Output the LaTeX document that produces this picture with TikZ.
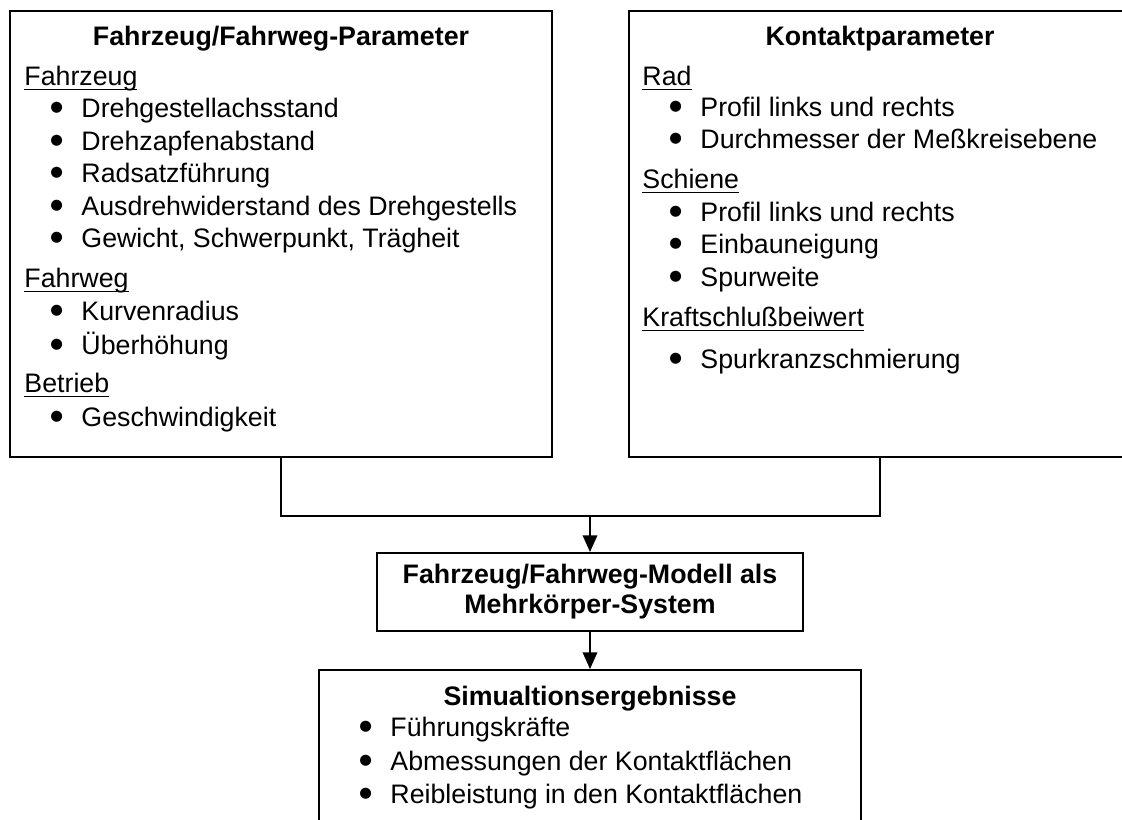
\documentclass[tikz,border=0pt]{standalone}
\usepackage{fontspec}
\setmainfont{Liberation Sans}
\newfontfamily\symfont{DejaVu Sans}
\usetikzlibrary{arrows.meta}

\newlength{\px}
\setlength{\px}{0.4486pt}
\newcommand{\sz}{\fontsize{12pt}{13.5pt}\selectfont}
\newcommand{\bdot}{\raisebox{2.9pt}{\symfont\fontsize{6.5pt}{6.5pt}\selectfont ●}}
\newcommand{\itm}[1]{\makebox[12.56pt][l]{\hspace{1.5pt}\makebox[0pt][c]{\bdot}}#1}
\newcommand{\hd}[1]{\underline{\smash{#1}}}

\tikzset{
	box/.style={draw, line width=0.9pt, inner sep=0pt},
	title/.style={font=\sz\bfseries, inner sep=0pt, text height=0.9em, text depth=0.1em},
	head/.style={font=\sz, anchor=west, inner sep=0pt, text height=0.9em, text depth=0.1em},
	item/.style={head},
	flow/.style={line width=0.9pt},
	arr/.style={flow, -{Triangle[length=7.5pt, width=6.5pt]}},
}

\begin{document}
\begin{tikzpicture}[yscale=-1, x=\px, y=\px]

		\clip (0,0) rectangle (1122,819);

		% Fahrzeug/Fahrweg
		\node [box, minimum width=542\px, minimum height=446\px]	(fwp) at (281,234) {};
		\node [title]	(fwp-t) at (281,37) {Fahrzeug/Fahrweg-Parameter};
		\node [head]	(fz) at (24,77) {\hd{Fahrzeug}};
		\foreach \y/\txt [count=\i] in {109/Drehgestellachsstand, 142/Drehzapfenabstand, 174/Radsatzführung, 207/Ausdrehwiderstand des Drehgestells, 239/{Gewicht, Schwerpunkt, Trägheit}}
			\node [item]	(fz\i) at (53,\y) {\itm{\txt}};
		\node [head]	(fw) at (24,279) {\hd{Fahrweg}};
		\node [item]	(fw1) at (53,312) {\itm{Kurvenradius}};
		\node [item]	(fw2) at (53,346) {\itm{Überhöhung}};
		\node [head]	(bt) at (24,384) {\hd{Betrieb}};
		\node [item]	(bt1) at (53,418) {\itm{Geschwindigkeit}};

		% Kontakt
		\node [box, minimum width=502\px, minimum height=446\px]	(kp) at (880,234) {};
		\node [title]	(kp-t) at (880,37) {Kontaktparameter};
		\node [head]	(rad) at (642,77) {\hd{Rad}};
		\node [item]	(rad1) at (672,108) {\itm{Profil links und rechts}};
		\node [item]	(rad2) at (672,140) {\itm{Durchmesser der Meßkreisebene}};
		\node [head]	(sch) at (642,180) {\hd{Schiene}};
		\foreach \y/\txt [count=\i] in {213/Profil links und rechts, 245/Einbauneigung, 278/Spurweite}
			\node [item]	(sch\i) at (672,\y) {\itm{\txt}};
		\node [head]	(ks) at (642,318) {\hd{Kraftschlußbeiwert}};
		\node [item]	(ks1) at (672,360) {\itm{Spurkranzschmierung}};

		% Modell
		\node [box, font=\sz\bfseries, align=center, minimum width=426\px, minimum height=78\px]	(mks) at (590,592) {Fahrzeug/Fahrweg-Modell als\\Mehrkörper-System};

		% Ergebnisse
		\node [box, minimum width=542\px, minimum height=160\px]	(sim) at (590,750) {};
		\node [title]	(sim-t) at (590,697) {Simualtionsergebnisse};
		\foreach \y/\txt [count=\i] in {728/Führungskräfte, 762/Abmessungen der Kontaktflächen, 795/Reibleistung in den Kontaktflächen}
			\node [item]	(sim\i) at (362,\y) {\itm{\txt}};

		\coordinate (join) at (590,516);
		\draw [flow]	(fwp.south) |- (join) -| (kp.south);
		\draw [arr]		(join) to (mks);
		\draw [arr]		(mks) to (sim);

	\end{tikzpicture}
\end{document}
